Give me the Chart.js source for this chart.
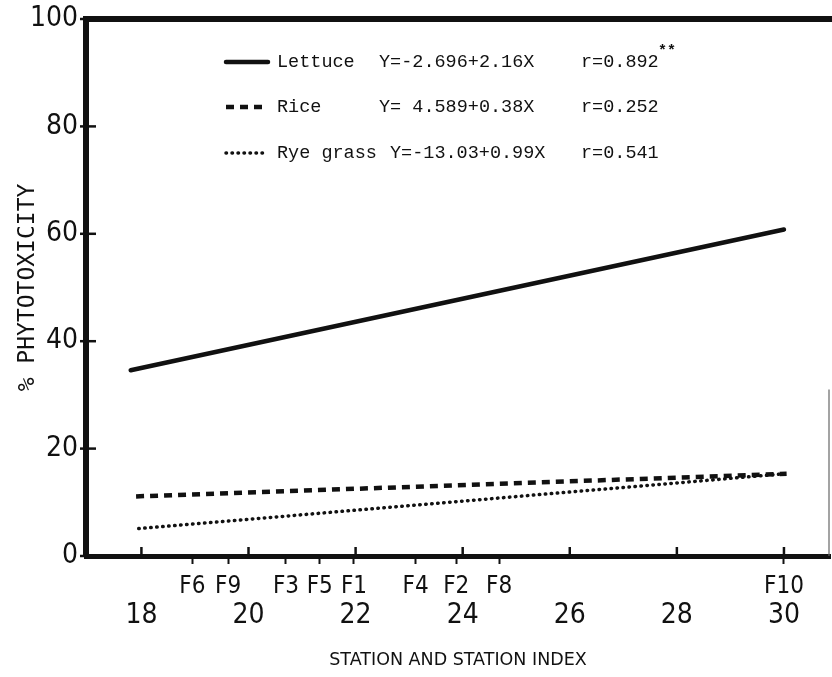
<!DOCTYPE html>
<html><head><meta charset="utf-8">
<script src="https://cdn.jsdelivr.net/npm/chart.js@4/dist/chart.umd.min.js"></script>
<style>html,body{margin:0;padding:0;background:#fff}#wrap{width:832px;height:677px;position:relative}</style>
</head><body><div id="wrap"><canvas id="c"></canvas></div>
<script>
// ---- data ----
const xTicks = [18, 20, 22, 24, 26, 28, 30];
const yTicks = [0, 20, 40, 60, 80, 100];
const stationNames = ['F6', 'F9', 'F3', 'F5', 'F1', 'F4', 'F2', 'F8', 'F10'];
const stationIndex = [18.95, 19.62, 20.7, 21.33, 21.97, 23.12, 23.88, 24.68, 30.0];
const seriesNames = ['Lettuce', 'Rice', 'Rye grass'];
const equations = ['Y=-2.696+2.16X', 'Y= 4.589+0.38X', 'Y=-13.03+0.99X'];
const rValues = ['r=0.892', 'r=0.252', 'r=0.541'];
const significance = ['**', '', ''];
const lettuceX = [17.8, 30.0];
const lettuceY = [34.6, 60.8];
const riceX = [17.9, 30.05];
const riceY = [11.1, 15.3];
const ryeX = [17.95, 30.0];
const ryeY = [5.1, 15.3];

const NARROW = "'Liberation Sans Narrow', 'DejaVu Sans Condensed', sans-serif";
const MONO = "'Liberation Mono', 'DejaVu Sans Mono', monospace";
const INK = '#111';

const pts = (xs, ys) => xs.map((x, i) => ({x: x, y: ys[i]}));

const styles = [
  {borderWidth: 4.5, borderDash: [], borderCapStyle: 'round'},
  {borderWidth: 4.5, borderDash: [8, 6], borderCapStyle: 'butt'},
  {borderWidth: 3.5, borderDash: [0.5, 5.5], borderCapStyle: 'round'}
];

const datasets = [
  {label: seriesNames[0], data: pts(lettuceX, lettuceY)},
  {label: seriesNames[1], data: pts(riceX, riceY)},
  {label: seriesNames[2], data: pts(ryeX, ryeY)}
].map((d, i) => Object.assign(d, styles[i], {
  borderColor: INK, backgroundColor: INK, pointRadius: 0, tension: 0, fill: false
}));

const framePlugin = {
  id: 'frame',
  afterDraw(chart) {
    const ctx = chart.ctx, a = chart.chartArea;
    const xs = chart.scales.x, ys = chart.scales.y;
    ctx.save();
    ctx.strokeStyle = INK;
    // top border
    ctx.lineWidth = 6;
    ctx.beginPath(); ctx.moveTo(a.left - 3, a.top); ctx.lineTo(chart.width, a.top); ctx.stroke();
    // thin right border (partially visible in the scan)
    ctx.lineWidth = 1.2; ctx.strokeStyle = '#666';
    ctx.beginPath(); ctx.moveTo(a.right - 1, ys.getPixelForValue(31)); ctx.lineTo(a.right - 1, a.bottom); ctx.stroke();
    ctx.strokeStyle = INK;
    // inner y ticks
    ctx.lineWidth = 2.5;
    yTicks.forEach(v => {
      const p = ys.getPixelForValue(v);
      ctx.beginPath(); ctx.moveTo(a.left - 6, p); ctx.lineTo(a.left + 10, p); ctx.stroke();
    });
    // inner x ticks (station index)
    xTicks.forEach(v => {
      const p = xs.getPixelForValue(v);
      ctx.beginPath(); ctx.moveTo(p, a.bottom); ctx.lineTo(p, a.bottom - 9); ctx.stroke();
    });
    // legend
    const rowsY = [62, 107, 153];
    const fontPx = 18.5;
    ctx.font = fontPx + 'px ' + MONO;
    ctx.fillStyle = INK;
    ctx.textBaseline = 'middle';
    ctx.textAlign = 'left';
    const eqX = [379, 379, 390];
    chart.data.datasets.forEach((ds, i) => {
      const y = rowsY[i];
      ctx.save();
      ctx.lineWidth = ds.borderWidth;
      ctx.setLineDash(ds.borderDash);
      ctx.lineCap = ds.borderCapStyle;
      ctx.beginPath(); ctx.moveTo(226, y); ctx.lineTo(268, y); ctx.stroke();
      ctx.restore();
      ctx.fillText(ds.label, 277, y);
      ctx.fillText(equations[i], eqX[i], y);
      ctx.fillText(rValues[i], 581, y);
      if (significance[i]) {
        ctx.save();
        ctx.font = 'bold 15px ' + MONO;
        ctx.fillText(significance[i], 658, y - 11);
        ctx.restore();
      }
    });
    ctx.restore();
  }
};

new Chart(document.getElementById('c'), {
  type: 'line',
  data: {datasets: datasets},
  plugins: [framePlugin],
  options: {
    responsive: true,
    maintainAspectRatio: false,
    animation: false,
    layout: {padding: {top: 19, right: 2, bottom: 0, left: 0}},
    plugins: {legend: {display: false}, tooltip: {enabled: false}},
    scales: {
      x: {
        type: 'linear', position: 'bottom', weight: 1,
        min: 16.965, max: 30.86,
        afterBuildTicks: s => { s.ticks = xTicks.map(v => ({value: v})); },
        afterFit: s => { s.height = 83; s.paddingLeft = 0; s.paddingRight = 0; },
        grid: {display: false, drawTicks: false},
        border: {display: false},
        ticks: {autoSkip: false, maxRotation: 0, padding: 5, color: INK,
                font: {family: NARROW, size: 28}},
        title: {display: true, text: 'STATION AND STATION INDEX', color: INK,
                font: {family: "'DejaVu Sans', sans-serif", size: 17.5},
                padding: {top: 0, bottom: 6}}
      },
      st: {
        type: 'linear', position: 'bottom', weight: 0,
        min: 16.965, max: 30.86,
        afterBuildTicks: s => { s.ticks = stationIndex.map(v => ({value: v})); },
        afterFit: s => { s.height = 38; s.paddingLeft = 0; s.paddingRight = 0; },
        grid: {drawOnChartArea: false, drawTicks: true, tickLength: 8, tickWidth: 2, tickColor: INK},
        border: {display: true, color: INK, width: 5},
        ticks: {autoSkip: false, maxRotation: 0, padding: 8, color: INK,
                font: {family: NARROW, size: 24},
                callback: (v, i) => stationNames[i]}
      },
      y: {
        type: 'linear', position: 'left',
        min: 0, max: 100,
        afterBuildTicks: s => { s.ticks = yTicks.map(v => ({value: v})); },
        afterFit: s => { s.width = 86; s.paddingTop = 0; s.paddingBottom = 0; },
        grid: {drawOnChartArea: false, drawTicks: false},
        border: {display: true, color: INK, width: 6},
        ticks: {padding: 8, color: INK, font: {family: NARROW, size: 28}},
        title: {display: true, text: '% PHYTOTOXICITY', color: INK,
                font: {family: "'DejaVu Sans Mono', monospace", size: 23},
                padding: {top: 14, bottom: 0}}
      }
    }
  }
});
</script></body></html>
